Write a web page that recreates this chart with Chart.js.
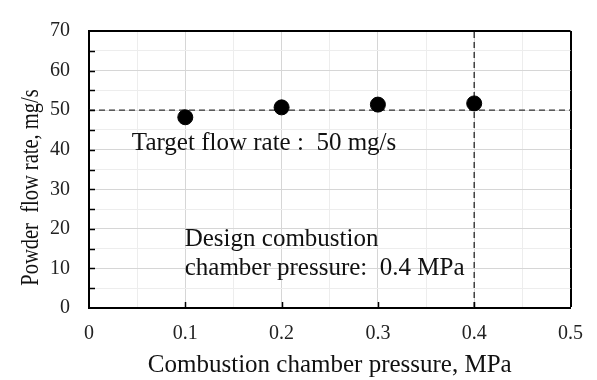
<!DOCTYPE html>
<html lang="en">
<head>
  <meta charset="UTF-8">
  <title>Powder flow rate vs combustion chamber pressure</title>
  <script src="https://cdn.jsdelivr.net/npm/chart.js@4.4.1/dist/chart.umd.min.js"></script>
  <style>
    html, body { margin: 0; padding: 0; background: #fff; }
    .wrap { width: 597px; height: 380px; }
  </style>
</head>
<body>
  <div class="wrap"><canvas id="flowChart" width="597" height="380"></canvas></div>
  <script>
    // data
    const pressure = [0.1, 0.2, 0.3, 0.4];           // MPa
    const flowRate = [48.2, 50.7, 51.4, 51.7];       // mg/s
    const targetRate = 50;                           // mg/s, horizontal dashed line
    const designPressure = 0.4;                      // MPa, vertical dashed line
    const xRange = [0, 0.5];
    const yRange = [0, 70];

    const xTitle = 'Combustion chamber pressure, MPa';
    const yTitle = 'Powder\u00a0 flow rate, mg/s';
    const notes = [
      { text: 'Target flow rate\u00a0:\u00a0 50 mg/s', x: 0.0445, y: 40.0 },
      { text: 'Design combustion', x: 0.0994, y: 15.7 },
      { text: 'chamber pressure:\u00a0 0.4 MPa', x: 0.0994, y: 8.3 }
    ];

    const serif = '"Liberation Serif", "DejaVu Serif", serif';
    const isMajor = (v, step) => Math.abs(Math.round(v / step) - v / step) < 1e-6;

    // inward ticks, axis titles and text notes
    const extras = {
      id: 'extras',
      afterDatasetsDraw(chart) {
        const { ctx, scales: { x, y } } = chart;
        ctx.save();
        ctx.strokeStyle = '#000';
        ctx.lineWidth = 1.5;
        ctx.beginPath();
        for (let v = yRange[0] + 5; v < yRange[1]; v += 5) {
          const py = Math.round(y.getPixelForValue(v)) + 0.5;
          ctx.moveTo(x.left, py);
          ctx.lineTo(x.left + 6, py);
        }
        for (let i = 1; i < 5; i++) {
          const px = Math.round(x.getPixelForValue(i / 10)) + 0.5;
          ctx.moveTo(px, y.bottom);
          ctx.lineTo(px, y.bottom - 6);
        }
        ctx.stroke();

        ctx.fillStyle = '#111';
        ctx.font = '25px ' + serif;
        ctx.textBaseline = 'alphabetic';
        ctx.textAlign = 'left';
        notes.forEach(n => {
          ctx.fillText(n.text, x.getPixelForValue(n.x), y.getPixelForValue(n.y));
        });

        // x title
        ctx.textAlign = 'center';
        ctx.fillText(xTitle, (x.left + x.right) / 2, 372);

        // y title, a bit condensed like the original
        ctx.translate(38, (y.top + y.bottom) / 2 + 18);
        ctx.rotate(-Math.PI / 2);
        ctx.scale(0.82, 1);
        ctx.fillText(yTitle, 0, 0);
        ctx.restore();
      }
    };

    new Chart(document.getElementById('flowChart'), {
      type: 'scatter',
      data: {
        datasets: [
          {
            label: 'Powder flow rate',
            data: pressure.map((p, i) => ({ x: p, y: flowRate[i] })),
            backgroundColor: '#000',
            borderColor: '#000',
            pointRadius: 7.5,
            order: 0
          },
          {
            type: 'line',
            label: 'Target',
            data: [{ x: xRange[0], y: targetRate }, { x: xRange[1], y: targetRate }],
            borderColor: '#333',
            borderWidth: 1.4,
            borderDash: [6, 4],
            pointRadius: 0,
            order: 1
          },
          {
            type: 'line',
            label: 'Design',
            data: [{ x: designPressure, y: yRange[0] }, { x: designPressure, y: yRange[1] }],
            borderColor: '#333',
            borderWidth: 1.4,
            borderDash: [6, 4],
            pointRadius: 0,
            order: 1
          }
        ]
      },
      options: {
        responsive: false,
        animation: false,
        layout: { padding: { top: 14, right: 25, left: 0, bottom: 0 } },
        plugins: { legend: { display: false }, tooltip: { enabled: false } },
        scales: {
          x: {
            type: 'linear',
            min: xRange[0],
            max: xRange[1],
            afterFit(scale) { scale.height = 72; },
            ticks: {
              stepSize: 0.05,
              autoSkip: false,
              maxRotation: 0,
              padding: 14,
              color: '#222',
              font: { family: serif, size: 20 },
              callback: v => isMajor(v, 0.1) ? String(+v.toFixed(1)) : ''
            },
            grid: {
              drawTicks: false,
              tickLength: 0,
              lineWidth: c => (c.tick && Math.abs(c.tick.value - xRange[1]) < 1e-6) ? 2 : 1,
              color: c => {
                const v = c.tick ? c.tick.value : 0;
                if (Math.abs(v - xRange[1]) < 1e-6) return '#000';
                return isMajor(v, 0.1) ? '#d6d6d6' : '#ededed';
              }
            },
            border: { color: '#000', width: 2 }
          },
          y: {
            min: yRange[0],
            max: yRange[1],
            afterFit(scale) { scale.width = 89; },
            ticks: {
              stepSize: 5,
              autoSkip: false,
              padding: 19,
              color: '#222',
              font: { family: serif, size: 20 },
              callback: v => isMajor(v, 10) ? String(v) : ''
            },
            grid: {
              drawTicks: false,
              tickLength: 0,
              lineWidth: c => (c.tick && c.tick.value === yRange[1]) ? 2 : 1,
              color: c => {
                const v = c.tick ? c.tick.value : 0;
                if (v === yRange[1]) return '#000';
                return isMajor(v, 10) ? '#d6d6d6' : '#ededed';
              }
            },
            border: { color: '#000', width: 2 }
          }
        }
      },
      plugins: [extras]
    });
  </script>
</body>
</html>
